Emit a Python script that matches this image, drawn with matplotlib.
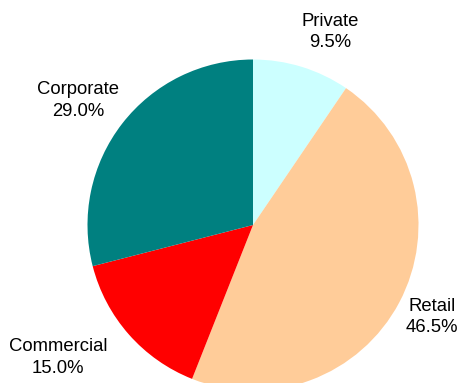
import numpy as np
import matplotlib
matplotlib.use("Agg")
import matplotlib.pyplot as plt

plt.rcParams['font.family'] = ['Liberation Sans', 'DejaVu Sans']

# Portfolio split by segment
segments = ["Private", "Retail", "Commercial", "Corporate"]
shares = [9.5, 46.5, 15.0, 29.0]
colors = ["#CCFFFF", "#FFCC99", "#FF0000", "#008080"]

# Label placement: (angle in degrees, distance in pie radii)
label_pos = [(68.3, 1.255), (-27.2, 1.216), (-145.9, 1.423), (144.5, 1.30)]

fig = plt.figure(figsize=(4.6, 3.83), dpi=100)
ax = fig.add_axes([0, 0, 1, 1])
ax.pie(shares, colors=colors, startangle=90, counterclock=False,
       radius=1.0, wedgeprops=dict(linewidth=0))

for name, val, (ang, dist) in zip(segments, shares, label_pos):
    a = np.deg2rad(ang)
    ax.text(dist * np.cos(a), dist * np.sin(a), f"{name}\n{val:.1f}%",
            ha="center", va="center", fontsize=13.3, linespacing=1.38,
            color="black")

ax.set_xlim(-253 / 165.5, (460 - 253) / 165.5)
ax.set_ylim(-158 / 165.5, 225 / 165.5)
ax.set_aspect("equal", adjustable="box")
ax.axis("off")

fig.savefig("out.png", dpi=100, facecolor="white")
